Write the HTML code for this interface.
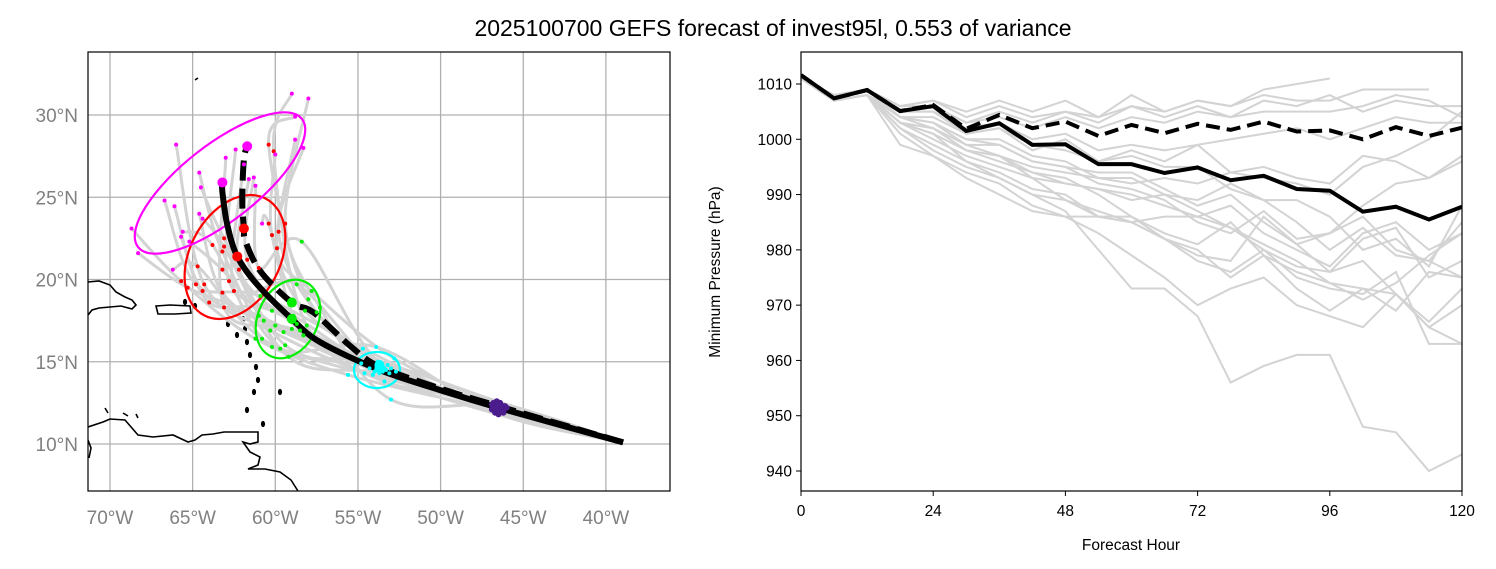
<!DOCTYPE html>
<html><head><meta charset="utf-8"><style>
html,body{margin:0;padding:0;background:#fff;}
svg{display:block;font-family:"Liberation Sans","DejaVu Sans",sans-serif;}
</style></head><body>
<svg id="fig" width="1496" height="569" viewBox="0 0 1496 569" xmlns="http://www.w3.org/2000/svg">
<rect width="1496" height="569" fill="#fff"/>
<text x="773" y="36" font-size="23" text-anchor="middle" fill="#000">2025100700 GEFS forecast of invest95l, 0.553 of variance</text>
<defs><clipPath id="mapclip"><rect x="88" y="52" width="582" height="439"/></clipPath>
<clipPath id="pclip"><rect x="801" y="52" width="661" height="439"/></clipPath></defs>
<g id="map"></g>
<g id="pres"></g>
</svg>
<script>
// ---------- MAP DATA ----------
const meanLon = [38.96,46.5,50.1,53.7,57.3,59.0,61.1,62.3,62.9,63.2,63.2];
const meanLat = [10.1,12.2,13.3,14.5,16.2,17.6,19.7,21.4,23.3,25.3,25.9];
const consLon = [38.96,46.5,50.1,53.7,55.4,57.7,59.0,60.9,61.8,61.9,62.0,61.9,61.7];
const consLat = [10.1,12.3,13.4,14.7,15.9,18.0,18.6,20.5,22.3,23.1,24.9,27.3,28.1];
const startLon = 39.0, startLat = 10.1;
const lon24 = [46.9,46.8,46.7,46.9,46.6,46.8,46.4,46.7,46.5,46.6,46.3,46.5,46.4,46.6,46.2,46.5,46.3,46.4,46.1,46.3,46.2,46.5,46.0,46.4,46.2,46.1];
const lat24 = [12.1,12.3,12.0,12.4,12.2,12.5,12.1,11.9,12.3,12.6,12.2,12.0,12.4,12.2,12.3,11.8,12.0,12.5,12.2,12.1,11.9,12.3,12.2,12.4,12.0,12.3];
const lon48 = [55.6,54.8,54.7,54.6,54.3,54.1,54.0,53.9,53.9,53.8,53.8,53.7,53.7,53.6,53.6,53.5,53.5,53.4,53.4,53.3,53.2,53.1,53.0,52.8,52.7,53.0];
const lat48 = [14.2,14.9,15.8,14.3,14.6,14.2,14.4,15.9,14.5,15.0,14.7,14.6,14.3,14.8,14.5,14.4,14.7,13.8,14.6,14.5,14.8,14.3,14.6,15.2,14.4,12.7];
const lon72 = [61.2,61.0,60.9,60.8,60.7,60.3,60.2,60.2,60.0,59.7,59.5,59.4,59.2,59.0,58.9,58.7,58.7,58.5,58.4,58.3,58.2,58.1,58.0,57.8,57.5,57.3];
const lat72 = [16.4,17.8,19.0,16.4,17.5,16.9,18.1,15.9,17.2,15.8,16.8,16.0,15.3,17.0,17.8,19.7,17.3,16.9,22.3,16.6,18.1,17.2,18.8,19.3,18.0,18.3];
const lon96 = [65.7,65.3,64.8,64.7,64.4,64.3,64.0,63.8,63.2,63.2,63.2,63.1,63.1,63.1,62.8,62.5,62.2,61.7,61.0,60.4,60.2,60.1,60.4,59.9,59.8,59.4];
const lat96 = [19.9,19.5,19.7,20.8,19.3,19.7,18.6,22.1,20.6,21.7,19.2,22.5,22.0,18.3,19.9,19.3,20.6,21.2,20.7,23.4,22.7,27.8,28.2,21.9,22.9,23.4];
const lon120 = [68.7,68.3,66.7,66.2,66.1,66.0,65.7,65.6,65.2,64.6,64.6,64.5,64.4,63.0,62.4,61.9,61.6,61.3,61.2,60.8,60.0,59.0,58.8,58.8,58.3,58.0];
const lat120 = [23.1,21.6,24.8,20.6,24.45,28.2,22.6,22.9,22.3,26.5,24.0,25.6,23.7,27.4,27.9,27.0,26.1,26.2,25.7,23.4,27.6,31.3,29.9,28.5,28.0,31.0];
const meanDotLon = [46.5,53.7,59.0,62.3,63.2];
const meanDotLat = [12.2,14.6,17.6,21.4,25.9];
const consDotLon = [46.5,53.7,59.0,61.9,61.7];
const consDotLat = [12.3,14.8,18.6,23.1,28.1];
const dotColors = ['#4b1c8c','#00ffff','#00ee00','#ff0000','#ff00ff'];
const mapLonTicks = [70,65,60,55,50,45,40];
const mapLatTicks = [10,15,20,25,30];

// ---------- PRESSURE DATA ----------
const hours = [0,6,12,18,24,30,36,42,48,54,60,66,72,78,84,90,96,102,108,114,120];
const meanPres = [1011.6,1007.4,1008.9,1005.1,1006.0,1001.5,1002.9,999.0,999.1,995.5,995.5,993.9,994.9,992.6,993.4,991.0,990.7,986.9,987.8,985.5,987.8];
const consPres = [1011.6,1007.4,1008.9,1005.1,1006.2,1001.9,1004.4,1002.0,1003.2,1000.6,1002.6,1001.1,1002.8,1001.7,1003.2,1001.4,1001.6,1000.0,1002.2,1000.6,1002.1];
const members = [
[1011,1008,1009,1006,1007,1004,1006,1004,1005,1003,1006,1004,1006,1004,1007,1006,1008,1005,1007,1006,1006],
[1011,1008,1009,1006,1007,1005,1007,1005,1007,1004,1008,1005,1007,1006,1009,1010,1011],
[1011,1007,1008,1005,1006,1003,1004,1002,1004,1002,1004,1003,1005,1004,1005,1005,1005,1006,1008,1007,1004],
[1011,1007,1009,1004,1004,1001,1002,998,1000,996,998,996,999,994,993,992,990,995,997,1000,1005],
[1011,1008,1009,1004,1003,999,999,996,995,992,991,989,985,983,987,982,983,988,992,993,996],
[1011,1007,1008,1003,1000,997,995,993,992,991,990,988,986,988,983,980,977,983,985,980,983],
[1011,1007,1008,1002,998,995,993,990,989,986,985,982,979,978,986,981,976,978,972,966,970],
[1011,1007,1008,999,997,993,990,987,986,986,986,983,981,985,979,976,974,971,974,979,983],
[1011,1007,1008,1001,997,994,992,988,986,983,979,975,970,973,975,970,968,966,972,966,963],
[1011,1007,1008,1003,1001,998,996,994,993,990,986,982,978,976,980,975,973,972,976,963,963],
[1011,1007,1008,1002,999,996,993,990,987,980,973,973,968,956,959,961,961,948,947,940,943],
[1011,1007,1008,1003,1002,999,997,995,994,993,992,993,992,994,995,993,992,997,996,993,997],
[1011,1008,1009,1005,1005,1002,1003,1000,1001,998,999,998,999,1000,1001,1002,1000,1002,1004,1003,1003],
[1011,1007,1008,1004,1003,1000,1000,997,996,993,993,990,989,992,989,985,980,984,979,978,975],
[1011,1007,1008,1004,1003,1000,999,996,995,994,994,991,988,990,985,981,983,986,980,978,985],
[1011,1008,1009,1005,1005,1001,1002,999,998,996,997,995,995,991,989,989,986,980,982,977,988],
[1011,1007,1008,1003,1002,998,997,993,989,987,985,982,980,975,979,973,969,973,969,976,975],
[1011,1007,1008,1004,1002,998,997,994,992,991,989,990,987,984,981,978,974,973,972,967,973],
[1011,1008,1009,1006,1006,1003,1005,1003,1005,1004,1006,1005,1007,1006,1008,1007,1007,1009,1009,1009],
[1011,1007,1008,1003,1001,996,994,991,990,986,985,986,986,984,980,977,976,982,984,975,978]
];
const presTicks = [1010,1000,990,980,970,960,950,940];
const hourTicks = [0,24,48,72,96,120];

const NS='http://www.w3.org/2000/svg';
function mk(tag, attrs, parent){const e=document.createElementNS(NS,tag);for(const k in attrs)e.setAttribute(k,attrs[k]);parent.appendChild(e);return e;}
function smooth(pts){
  let d='M'+pts[0][0]+','+pts[0][1];
  for(let i=0;i<pts.length-1;i++){
    const p0=pts[Math.max(0,i-1)],p1=pts[i],p2=pts[i+1],p3=pts[Math.min(pts.length-1,i+2)];
    const c1=[p1[0]+(p2[0]-p0[0])/6,p1[1]+(p2[1]-p0[1])/6];
    const c2=[p2[0]-(p3[0]-p1[0])/6,p2[1]-(p3[1]-p1[1])/6];
    d+=` C${c1[0]},${c1[1]} ${c2[0]},${c2[1]} ${p2[0]},${p2[1]}`;
  }
  return d;
}
const mx = w => 110 + (70 - w) * 16.53;
const my = l => 444 - (l - 10) * 16.45;
const map = document.getElementById('map');

mapLonTicks.forEach(w=>{
  const l=mk('line',{x1:mx(w),x2:mx(w),y1:52,y2:491,stroke:'#b0b0b0','stroke-width':1.3},map);
  
  
  const t=mk('text',{x:mx(w),y:524,'font-size':19,fill:'#808080','text-anchor':'middle'},map);
  t.textContent=w+'°W';
  
  
});
mapLatTicks.forEach(la=>{
  const l=mk('line',{x1:88,x2:670,y1:my(la),y2:my(la),stroke:'#b0b0b0','stroke-width':1.3},map);
  
  
  const t=mk('text',{x:78,y:my(la)+7,'font-size':19,fill:'#808080','text-anchor':'end'},map);
  t.textContent=la+'°N';
  
  
});
const mg = mk('g',{'clip-path':'url(#mapclip)'},map);
const coastPaths = [
 'M88,282 L99,281 L110,285 L116,292 L125,297 L132,300 L136,305 L132,309 L121,306 L110,307 L99,308 L92,310 L88,315',
 'M156,306 L170,305 L190,306 L191,313 L175,314 L158,314 Z',
 'M88,427 L103,422 L110,419 L125,420 L138,435 L153,437 L173,435 L188,442 L195,440 L202,435 L213,434 L224,432 L243,432 L252,432 L258,432 L258,442 L250,444 L243,442 L250,452 L260,457 L258,465 L248,469 L265,469 L280,472 L291,480 L298,491',
 'M105,408 L108,413','M123,413 L128,416','M136,414 L138,418','M195,80 L198,78',
 'M88,440 L91,448 L89,458'
];
coastPaths.forEach(d=>{const p=mk('path',{d:d,fill:'none',stroke:'#000','stroke-width':1.6},mg);
  
  });
[[228,324],[243,319],[245,329],[237,335],[247,342],[250,355],[256,367],[258,380],[254,392],[247,410],[263,424],[280,392],[195,306],[185,302]].forEach(c=>{
  const e=mk('ellipse',{cx:c[0],cy:c[1],rx:1.6,ry:2.6,fill:'#000',stroke:'#000','stroke-width':1},mg);
  
  
});
for(let i=0;i<lon24.length;i++){
  const pts=[[startLon,startLat],[lon24[i],lat24[i]],[lon48[i],lat48[i]],[lon72[i],lat72[i]],[lon96[i],lat96[i]],[lon120[i],lat120[i]]];
  const p=mk('path',{d:smooth(pts.map(q=>[mx(q[0]),my(q[1])])),fill:'none',stroke:'#d3d3d3','stroke-width':3,'stroke-linejoin':'round'},mg);
  
  
}
const ell=[{c:'#00ffff',cx:377,cy:370,rx:23,ry:18,a:0},{c:'#00ee00',cx:288,cy:319,rx:41,ry:30,a:-65},{c:'#ff0000',cx:235,cy:257,rx:66,ry:45,a:-62},{c:'#ff00ff',cx:220,cy:183,rx:104,ry:38,a:-38}];
ell.forEach(e=>{const el=mk('ellipse',{cx:e.cx,cy:e.cy,rx:e.rx,ry:e.ry,transform:`rotate(${e.a} ${e.cx} ${e.cy})`,fill:'none',stroke:e.c,'stroke-width':2.2},mg);
  
  });
const mt=mk('path',{d:smooth(meanLon.map((w,i)=>[mx(w),my(meanLat[i])])),fill:'none',stroke:'#000','stroke-width':6,'stroke-linejoin':'round'},mg);


const ct=mk('path',{d:smooth(consLon.map((w,i)=>[mx(w),my(consLat[i])])),fill:'none',stroke:'#000','stroke-width':6,'stroke-dasharray':'20 8','stroke-linejoin':'round'},mg);


const groups=[[lon24,lat24],[lon48,lat48],[lon72,lat72],[lon96,lat96],[lon120,lat120]];
groups.forEach((g,k)=>{g[0].forEach((w,i)=>{
  const c=mk('circle',{cx:mx(w),cy:my(g[1][i]),r:k==0?3:2,fill:dotColors[k]},mg);
  
  
});});
meanDotLon.forEach((w,i)=>{
  const c=mk('circle',{cx:mx(w),cy:my(meanDotLat[i]),r:5,fill:dotColors[i]},mg);
  
  
  const d=mk('circle',{cx:mx(consDotLon[i]),cy:my(consDotLat[i]),r:5,fill:dotColors[i]},mg);
  
  
});
const mf=mk('rect',{x:88,y:52,width:582,height:439,fill:'none',stroke:'#000','stroke-width':1.2},map);



// ---------- PRESSURE CHART ----------
const pres=document.getElementById('pres');
const px = h => 801 + h * (661/120);
const py = p => 84 + (1010 - p) * (387/70);
const pg = mk('g',{'clip-path':'url(#pclip)'},pres);
members.forEach(m=>{
  const l=mk('polyline',{points:m.map((v,i)=>px(hours[i])+','+py(v)).join(' '),fill:'none',stroke:'#d3d3d3','stroke-width':2},pg);
  
  
});
const cl=mk('polyline',{points:consPres.map((v,i)=>px(hours[i])+','+py(v)).join(' '),fill:'none',stroke:'#000','stroke-width':4,'stroke-dasharray':'14 7'},pg);


const ml=mk('polyline',{points:meanPres.map((v,i)=>px(hours[i])+','+py(v)).join(' '),fill:'none',stroke:'#000','stroke-width':4},pg);


const pf=mk('rect',{x:801,y:52,width:661,height:439,fill:'none',stroke:'#000','stroke-width':1.2},pres);


presTicks.forEach(p=>{
  mk('line',{x1:796,x2:801,y1:py(p),y2:py(p),stroke:'#000','stroke-width':1},pres);
  const t=mk('text',{x:792,y:py(p)+5.5,'font-size':15.5,'text-anchor':'end',fill:'#000'},pres);
  t.textContent=p;
  
  
});
hourTicks.forEach(h=>{
  mk('line',{x1:px(h),x2:px(h),y1:491,y2:496,stroke:'#000','stroke-width':1},pres);
  const t=mk('text',{x:px(h),y:516,'font-size':15.5,'text-anchor':'middle',fill:'#000'},pres);
  t.textContent=h;
  
  
});
const xt=mk('text',{x:1131,y:550,'font-size':15.5,'text-anchor':'middle',fill:'#000'},pres);
xt.textContent='Forecast Hour';


const yt=mk('text',{x:720,y:272,'font-size':15.5,'text-anchor':'middle',fill:'#000',transform:'rotate(-90 720 272)'},pres);
yt.textContent='Minimum Pressure (hPa)';


</script>
</body></html>
